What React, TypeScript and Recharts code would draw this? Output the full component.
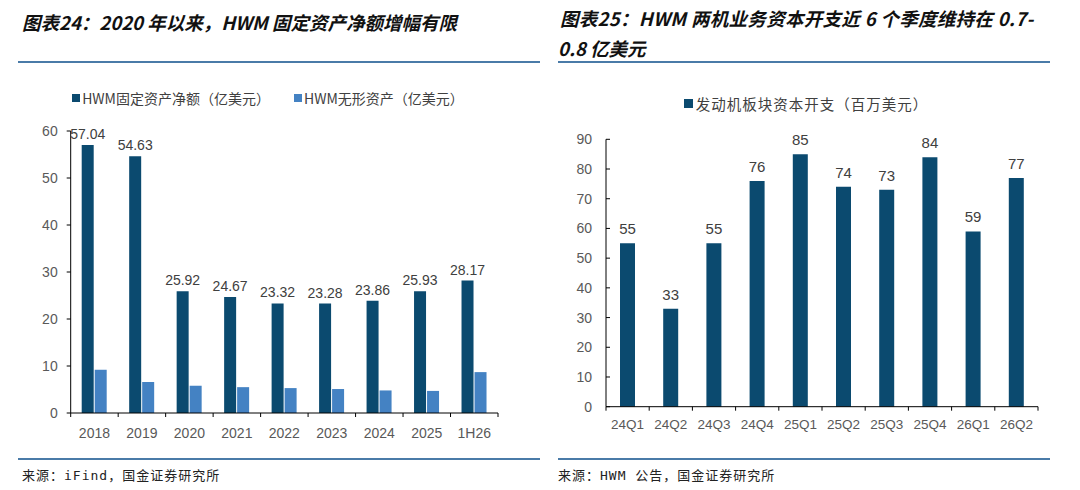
import React from 'react';
import { BarChart, Bar, XAxis, YAxis, LabelList, Legend } from 'recharts';

const years = ['2018', '2019', '2020', '2021', '2022', '2023', '2024', '2025', '1H26'];
const fixedAssets = [57.04, 54.63, 25.92, 24.67, 23.32, 23.28, 23.86, 25.93, 28.17];
const intangibleAssets = [9.2, 6.6, 5.8, 5.5, 5.3, 5.1, 4.8, 4.7, 8.7];
const leftTicks = [0, 10, 20, 30, 40, 50, 60];

const quarters = ['24Q1', '24Q2', '24Q3', '24Q4', '25Q1', '25Q2', '25Q3', '25Q4', '26Q1', '26Q2'];
const engineCapex = [55, 33, 55, 76, 85, 74, 73, 84, 59, 77];
const rightTicks = [0, 10, 20, 30, 40, 50, 60, 70, 80, 90];

const leftData = years.map((year, i) => ({ year, fixed: fixedAssets[i], intangible: intangibleAssets[i] }));
const rightData = quarters.map((q, i) => ({ q, capex: engineCapex[i] }));

const DARK = '#0B4A6F';
const LIGHT = '#4482C3';
const TEXT = '#595959';
const LINE_BLUE = '#4A7BA8';
const FONT = 'Arial, "Liberation Sans", "Noto Sans CJK SC", sans-serif';
const CJK = '"Noto Sans CJK SC", Arial, sans-serif';

const makeXTick = (dy: number, fontSize: number) => (props: any) => {
  const { x, y, payload, index, visibleTicksCount } = props;
  const half = payload && payload.offset ? payload.offset : 0;
  return (
    <g>
      <line x1={x - half} x2={x - half} y1={y} y2={y + 4} stroke="#000" strokeWidth={1} />
      {index === visibleTicksCount - 1 && (
        <line x1={x + half} x2={x + half} y1={y} y2={y + 4} stroke="#000" strokeWidth={1} />
      )}
      <text x={x} y={y + dy} textAnchor="middle" dominantBaseline="central" fill={TEXT} fontSize={fontSize} fontFamily={FONT}>
        {payload.value}
      </text>
    </g>
  );
};

const RightYTick = (props: any) => {
  const { x, y, payload } = props;
  return (
    <g>
      <line x1={x + 14} x2={x + 18} y1={y} y2={y} stroke="#000" strokeWidth={1} />
      <text x={x} y={y} textAnchor="end" dominantBaseline="central" fill={TEXT} fontSize={14} fontFamily={FONT}>
        {payload.value}
      </text>
    </g>
  );
};

const LeftLegend = () => (
  <div style={{ display: 'flex', justifyContent: 'center', alignItems: 'center', fontFamily: CJK, fontSize: 14, color: '#404040', whiteSpace: 'nowrap' }}>
    <span style={{ display: 'inline-block', width: 8, height: 8, background: DARK, marginRight: 2 }} />
    <span>HWM固定资产净额（亿美元）</span>
    <span style={{ display: 'inline-block', width: 8, height: 8, background: LIGHT, marginLeft: 24, marginRight: 2 }} />
    <span>HWM无形资产（亿美元）</span>
  </div>
);

const RightLegend = () => (
  <div style={{ display: 'flex', justifyContent: 'center', alignItems: 'center', fontFamily: CJK, fontSize: 14.5, color: '#404040', whiteSpace: 'nowrap', letterSpacing: 1 }}>
    <span style={{ display: 'inline-block', width: 9, height: 9, background: DARK, marginRight: 3 }} />
    <span>发动机板块资本开支（百万美元）</span>
  </div>
);

const titleStyle: React.CSSProperties = {
  position: 'absolute',
  fontFamily: CJK,
  fontWeight: 'bold',
  fontStyle: 'italic',
  fontSize: 18.5,
  color: '#111',
  whiteSpace: 'nowrap',
  lineHeight: '30px',
};

const sourceStyle: React.CSSProperties = {
  position: 'absolute',
  fontFamily: '"DejaVu Sans Mono", "Noto Sans CJK SC", monospace',
  fontSize: 13,
  letterSpacing: 1,
  color: '#222',
  whiteSpace: 'nowrap',
};

export default function App() {
  return (
    <div style={{ position: 'absolute', left: 0, top: 0, width: 1080, height: 490, background: '#fff', overflow: 'hidden' }}>
      {/* Titles */}
      <div style={{ ...titleStyle, left: 22, top: 7 }}>图表24：2020 年以来，HWM 固定资产净额增幅有限</div>
      <div style={{ ...titleStyle, left: 560, top: 3, letterSpacing: 0.3 }}>图表25：HWM 两机业务资本开支近 6 个季度维持在 0.7-</div>
      <div style={{ ...titleStyle, left: 558, top: 33 }}>0.8 亿美元</div>
      <div style={{ position: 'absolute', left: 18, top: 61, width: 522, height: 1.5, background: LINE_BLUE }} />
      <div style={{ position: 'absolute', left: 558, top: 61, width: 492, height: 1.5, background: LINE_BLUE }} />

      {/* Left chart */}
      <div style={{ position: 'absolute', left: 0, top: 80, width: 540, height: 380 }}>
        <BarChart width={540} height={380} data={leftData} margin={{ top: 51, right: 42, bottom: 17, left: 0 }} barGap={1}>
          <Legend verticalAlign="middle" align="center" layout="horizontal" content={<LeftLegend />} wrapperStyle={{ top: 8, left: -2, width: 540 }} />
          <XAxis dataKey="year" height={30} axisLine={{ stroke: '#000' }} tickLine={false} tickSize={0} tickMargin={0} interval={0} tick={makeXTick(20, 14)} />
          <YAxis width={70.7} domain={[0, 60]} ticks={leftTicks} axisLine={{ stroke: '#000' }} tickLine={{ stroke: '#000' }} tickSize={4} tickMargin={9} tick={{ fill: TEXT, fontSize: 14, fontFamily: FONT }} interval={0} />
          <Bar dataKey="fixed" name="HWM固定资产净额（亿美元）" fill={DARK} barSize={12} isAnimationActive={false}>
            <LabelList dataKey="fixed" position="top" offset={6} fill="#404040" fontSize={14} fontFamily={FONT} formatter={(v: any) => Number(v).toFixed(2)} />
          </Bar>
          <Bar dataKey="intangible" name="HWM无形资产（亿美元）" fill={LIGHT} barSize={12} isAnimationActive={false} />
        </BarChart>
      </div>

      {/* Right chart */}
      <div style={{ position: 'absolute', left: 540, top: 80, width: 540, height: 380 }}>
        <BarChart width={540} height={380} data={rightData} margin={{ top: 59.3, right: 42, bottom: 23.3, left: 0 }}>
          <Legend verticalAlign="middle" align="center" layout="horizontal" content={<RightLegend />} wrapperStyle={{ top: 13, left: -4, width: 540 }} />
          <XAxis dataKey="q" height={30} axisLine={{ stroke: '#000' }} tickLine={false} tickSize={0} tickMargin={0} interval={0} tick={makeXTick(18, 13.5)} />
          <YAxis width={66} domain={[0, 90]} ticks={rightTicks} axisLine={{ stroke: '#000' }} tickLine={false} tickSize={0} tickMargin={14} tick={<RightYTick />} interval={0} />
          <Bar dataKey="capex" name="发动机板块资本开支（百万美元）" fill={DARK} barSize={15} isAnimationActive={false}>
            <LabelList dataKey="capex" position="top" offset={9} fill="#404040" fontSize={15} fontFamily={FONT} />
          </Bar>
        </BarChart>
      </div>

      {/* Bottom lines and sources */}
      <div style={{ position: 'absolute', left: 18, top: 458, width: 522, height: 1.5, background: LINE_BLUE }} />
      <div style={{ position: 'absolute', left: 558, top: 458, width: 492, height: 1.5, background: LINE_BLUE }} />
      <div style={{ ...sourceStyle, left: 22, top: 465 }}>来源：iFind，国金证券研究所</div>
      <div style={{ ...sourceStyle, left: 558, top: 465 }}>来源：HWM 公告，国金证券研究所</div>
    </div>
  );
}
